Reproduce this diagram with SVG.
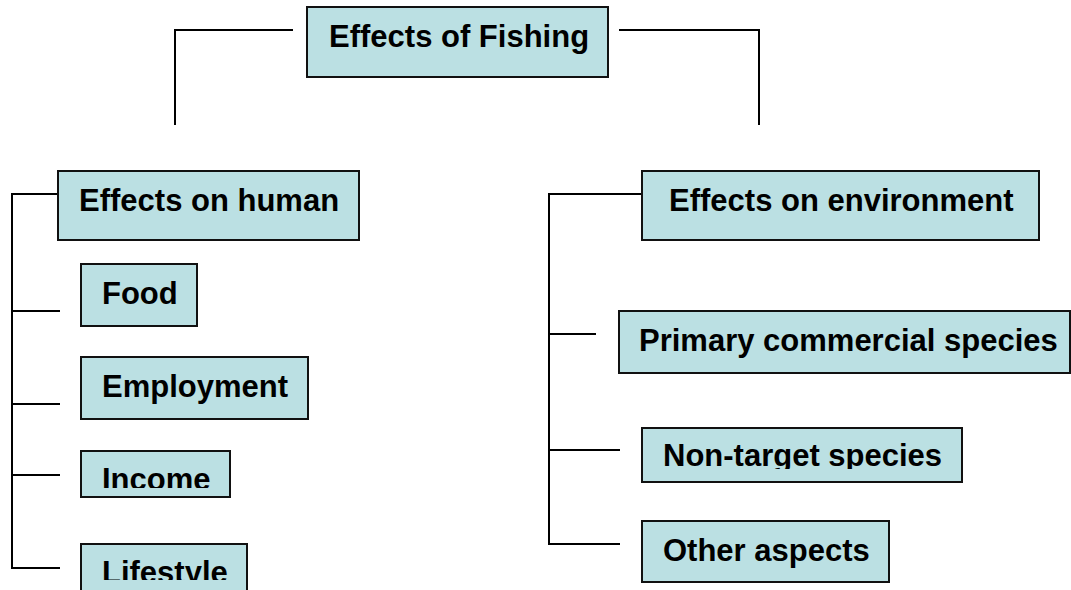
<svg xmlns="http://www.w3.org/2000/svg" width="1071" height="590" viewBox="0 0 1071 590">
  <defs>
    <style>
      .box { fill: #bbe0e3; stroke: #111; stroke-width: 2; }
      .lbl { font-family: "Liberation Sans", Arial, sans-serif; font-weight: bold; font-size: 31px; fill: #000; }
      .wire { fill: none; stroke: #000; stroke-width: 2; }
    </style>
    <clipPath id="clipIncome"><rect x="81" y="451" width="150" height="37"/></clipPath>
    <clipPath id="clipLifestyle"><rect x="81" y="544" width="167" height="36"/></clipPath>
    <clipPath id="clipNonTarget"><rect x="642" y="428" width="321" height="41"/></clipPath>
  </defs>
  <rect width="1071" height="590" fill="#fff"/>

  <g id="connectors">
    <polyline class="wire" points="293,30 175,30 175,125"/>
    <polyline class="wire" points="619,30 759,30 759,125"/>
    <polyline class="wire" points="58,194 12,194 12,568 60,568"/>
    <line class="wire" x1="12" y1="311" x2="60" y2="311"/>
    <line class="wire" x1="12" y1="404" x2="60" y2="404"/>
    <line class="wire" x1="12" y1="475" x2="60" y2="475"/>
    <polyline class="wire" points="642,194 549,194 549,544 620,544"/>
    <line class="wire" x1="549" y1="334" x2="596" y2="334"/>
    <line class="wire" x1="549" y1="450" x2="620" y2="450"/>
  </g>

  <g id="effects-of-fishing">
    <rect class="box" x="307" y="7" width="301" height="70"/>
    <text class="lbl" x="329" y="47">Effects of Fishing</text>
  </g>

  <g id="effects-on-human">
    <rect class="box" x="58" y="171" width="301" height="69"/>
    <text class="lbl" x="79" y="211">Effects on human</text>
  </g>
  <g id="food">
    <rect class="box" x="81" y="264" width="116" height="62"/>
    <text class="lbl" x="102" y="304">Food</text>
  </g>
  <g id="employment">
    <rect class="box" x="81" y="357" width="227" height="62"/>
    <text class="lbl" x="102" y="397">Employment</text>
  </g>
  <g id="income">
    <rect class="box" x="81" y="451" width="149" height="46"/>
    <text class="lbl" x="102" y="490" clip-path="url(#clipIncome)">Income</text>
  </g>
  <g id="lifestyle">
    <rect class="box" x="81" y="544" width="166" height="60"/>
    <text class="lbl" x="102" y="583" clip-path="url(#clipLifestyle)">Lifestyle</text>
  </g>

  <g id="effects-on-environment">
    <rect class="box" x="642" y="171" width="397" height="69"/>
    <text class="lbl" x="669" y="211">Effects on environment</text>
  </g>
  <g id="primary-commercial-species">
    <rect class="box" x="619" y="311" width="451" height="62"/>
    <text class="lbl" x="639" y="351">Primary commercial species</text>
  </g>
  <g id="non-target-species">
    <rect class="box" x="642" y="428" width="320" height="54"/>
    <text class="lbl" x="663" y="466" clip-path="url(#clipNonTarget)">Non-target species</text>
  </g>
  <g id="other-aspects">
    <rect class="box" x="642" y="521" width="247" height="61"/>
    <text class="lbl" x="663" y="561">Other aspects</text>
  </g>
</svg>
